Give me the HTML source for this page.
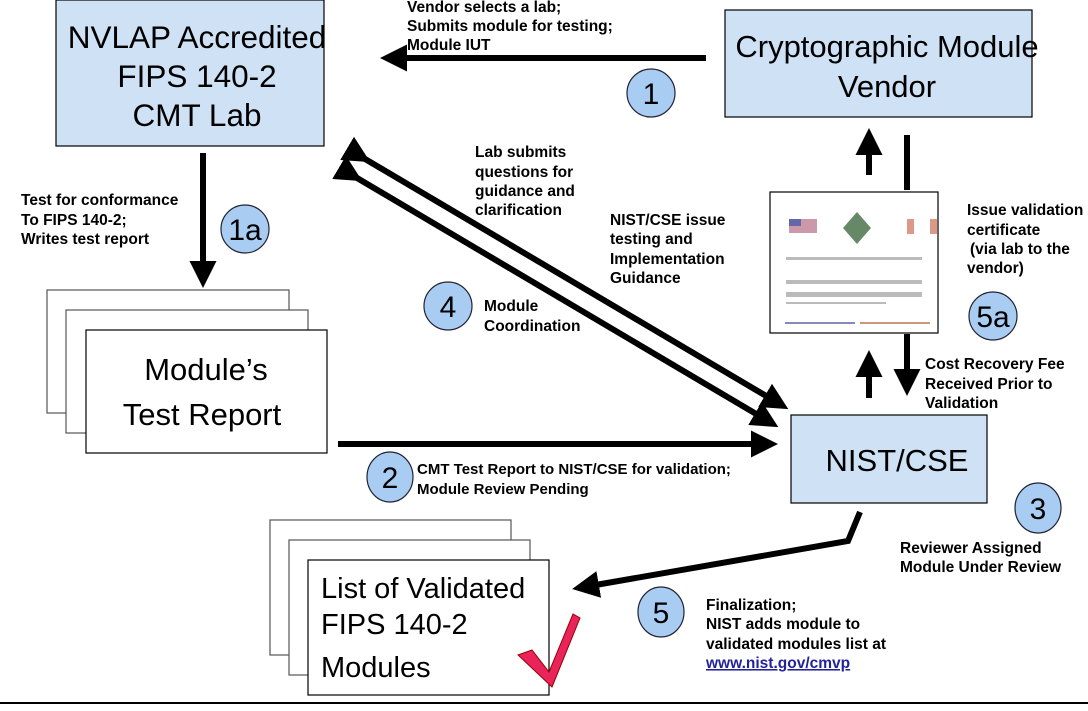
<!DOCTYPE html>
<html><head><meta charset="utf-8"><style>
body{margin:0;background:#fff;}
svg text{font-family:"Liberation Sans",Arial,sans-serif;}
</style></head><body>
<svg width="1088" height="706" viewBox="0 0 1088 706" xmlns="http://www.w3.org/2000/svg">
<defs>
<marker id="ah" markerWidth="4.5" markerHeight="4.5" refX="2.5" refY="2.25" orient="auto" markerUnits="strokeWidth">
<path d="M0,0 L4.5,2.25 L0,4.5 Z" fill="#000"/></marker>
</defs>
<rect x="56" y="0" width="268" height="146" fill="#cfe1f4" stroke="#000" stroke-width="1.2"/>
<text x="197" y="48" font-size="31.5" text-anchor="middle">NVLAP Accredited</text>
<text x="197" y="87" font-size="31.5" text-anchor="middle">FIPS 140-2</text>
<text x="197" y="126" font-size="31.5" text-anchor="middle">CMT Lab</text>

<rect x="725" y="10" width="307" height="107" fill="#cfe1f4" stroke="#000" stroke-width="1.2"/>
<text x="887" y="57" font-size="31" text-anchor="middle">Cryptographic Module</text>
<text x="887" y="97" font-size="31" text-anchor="middle">Vendor</text>

<rect x="791" y="415" width="196" height="88" fill="#cfe1f4" stroke="#000" stroke-width="1.2"/>
<text x="897" y="471" font-size="31" text-anchor="middle">NIST/CSE</text>

<rect x="770" y="192" width="168" height="141" fill="#fff" stroke="#000" stroke-width="1.2"/>
<rect x="789" y="219" width="28" height="14" fill="#c9a"/>
<rect x="789" y="219" width="12" height="7" fill="#66a"/>
<path d="M857,212 L871,228 L857,244 L843,228 Z" fill="#686"/>
<rect x="907" y="219" width="30" height="15" fill="#d98"/>
<rect x="914" y="219" width="16" height="15" fill="#fff"/>
<g fill="#bbb"><rect x="786" y="257" width="136" height="3"/><rect x="786" y="280" width="136" height="4"/><rect x="786" y="292" width="136" height="5"/><rect x="786" y="302" width="100" height="2"/></g>
<rect x="785" y="322" width="70" height="2" fill="#88b"/><rect x="860" y="322" width="70" height="2" fill="#c97"/>

<rect x="47" y="290" width="242" height="123" fill="#fff" stroke="#555" stroke-width="1.2"/>
<rect x="66" y="310" width="242" height="123" fill="#fff" stroke="#555" stroke-width="1.2"/>
<rect x="86" y="330" width="241" height="123" fill="#fff" stroke="#000" stroke-width="1.2"/>
<text x="206" y="380" font-size="31" text-anchor="middle">Module’s</text>
<text x="202" y="425" font-size="31" text-anchor="middle">Test Report</text>

<rect x="270" y="520" width="241" height="135" fill="#fff" stroke="#555" stroke-width="1.2"/>
<rect x="289" y="540" width="241" height="135" fill="#fff" stroke="#555" stroke-width="1.2"/>
<rect x="308" y="560" width="241" height="135" fill="#fff" stroke="#000" stroke-width="1.2"/>
<text x="321" y="598" font-size="29">List of Validated</text>
<text x="321" y="634" font-size="29">FIPS 140-2</text>
<text x="321" y="677" font-size="29">Modules</text>
<path d="M518,655 L532,650 L549,672 L573,614 L580,618 L552,687 Z" fill="#e8245a" stroke="#900" stroke-width="1"/>

<g stroke="#000" stroke-width="6" fill="none">
<line x1="706" y1="58" x2="392" y2="58" marker-end="url(#ah)"/>
<line x1="203" y1="153" x2="203" y2="276" marker-end="url(#ah)"/>
<line x1="338" y1="444" x2="766" y2="444" marker-end="url(#ah)"/>
<line x1="360" y1="156" x2="778" y2="403" marker-start="url(#ah)" marker-end="url(#ah)"/>
<line x1="352" y1="175" x2="768" y2="421" marker-start="url(#ah)" marker-end="url(#ah)"/>
<line x1="869" y1="175" x2="869" y2="140" marker-end="url(#ah)"/>
<line x1="907" y1="135" x2="907" y2="190"/>
<line x1="869" y1="398" x2="869" y2="362" marker-end="url(#ah)"/>
<line x1="907" y1="334" x2="907" y2="384" marker-end="url(#ah)"/>
<polyline points="860,512 848,541 584,587" marker-end="url(#ah)"/>
</g>

<g fill="#a9cdf2" stroke="#223" stroke-width="1.2">
<circle cx="651" cy="93" r="24"/><circle cx="245" cy="229" r="24"/>
<circle cx="448" cy="306" r="24"/><circle cx="993" cy="316" r="24"/>
<ellipse cx="390" cy="477" rx="23" ry="25"/><ellipse cx="1038" cy="508" rx="23" ry="25"/>
<ellipse cx="661" cy="612" rx="23" ry="25"/>
</g>
<g font-size="30" text-anchor="middle">
<text x="651" y="104">1</text><text x="245" y="240">1a</text><text x="448" y="317">4</text>
<text x="993" y="327">5a</text><text x="390" y="488">2</text><text x="1038" y="519">3</text><text x="661" y="623">5</text>
</g>

<g font-size="15.5" font-weight="bold">
<text x="407" y="12">Vendor selects a lab;</text>
<text x="407" y="31">Submits module for testing;</text>
<text x="407" y="50">Module IUT</text>
<text x="21" y="205">Test for conformance</text>
<text x="21" y="225">To FIPS 140-2;</text>
<text x="21" y="244">Writes test report</text>
<text x="475" y="157">Lab submits</text>
<text x="475" y="177">questions for</text>
<text x="475" y="196">guidance and</text>
<text x="475" y="215">clarification</text>
<text x="610" y="225">NIST/CSE issue</text>
<text x="610" y="244">testing and</text>
<text x="610" y="264">Implementation</text>
<text x="610" y="283">Guidance</text>
<text x="484" y="311">Module</text>
<text x="484" y="331">Coordination</text>
<text x="967" y="215">Issue validation</text>
<text x="967" y="235">certificate</text>
<text x="970" y="254"> (via lab to the</text>
<text x="967" y="273">vendor)</text>
<text x="925" y="369">Cost Recovery Fee</text>
<text x="925" y="389">Received Prior to</text>
<text x="925" y="408">Validation</text>
<text x="900" y="553">Reviewer Assigned</text>
<text x="900" y="572">Module Under Review</text>
<text x="706" y="610">Finalization;</text>
<text x="706" y="629">NIST adds module to</text>
<text x="706" y="649">validated modules list at</text>
<text x="706" y="668" fill="#22229a" text-decoration="underline">www.nist.gov/cmvp</text>
</g>
<g font-size="15" font-weight="bold">
<text x="417" y="474">CMT Test Report to NIST/CSE for validation;</text>
<text x="417" y="494">Module Review Pending</text>
</g>
<rect x="0" y="702" width="1088" height="2" fill="#000"/>
</svg>
</body></html>
